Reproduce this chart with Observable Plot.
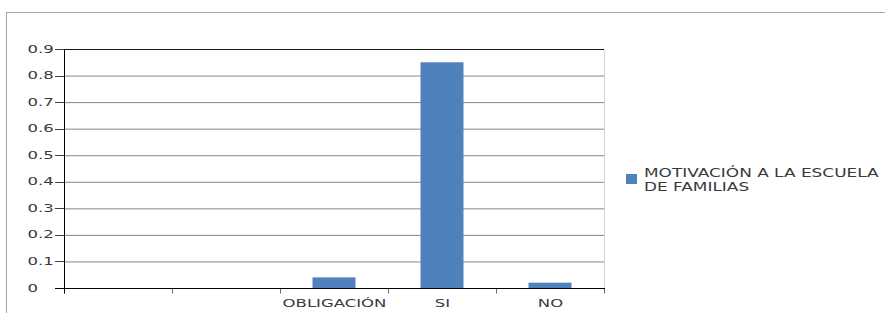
<!DOCTYPE html>
<html>
<head>
<meta charset="utf-8">
<script src="https://cdn.jsdelivr.net/npm/d3@7"></script>
<script src="https://cdn.jsdelivr.net/npm/@observablehq/plot@0.6"></script>
<style>
  html, body { margin: 0; padding: 0; background: #fff; }
  #wrap { position: relative; width: 885px; height: 313px; overflow: hidden; }
  #border { position: absolute; left: 6px; top: 12px; width: 900px; height: 400px;
            border-left: 1px solid #a6a6a6; border-top: 1px solid #a6a6a6; }
  #chart { position: absolute; left: 0; top: 0; }
  #legend { position: absolute; left: 626px; top: 166px; font-family: "DejaVu Sans", sans-serif;
            font-size: 12px; line-height: 14px; color: #3a3a3a; }
  #legend .sw { position: absolute; left: 0; top: 8px; width: 11px; height: 10px; background: #4f81bd; }
  #legend .tx { position: absolute; left: 18px; top: 0; white-space: nowrap;
                transform: scaleX(1.41); transform-origin: left center; }
</style>
</head>
<body>
<div id="wrap">
  <div id="border"></div>
  <div id="chart"></div>
  <div id="legend"></div>
</div>
<script>
const categories = ["", " ", "OBLIGACIÓN", "SI", "NO"];
const values = [null, null, 0.04, 0.85, 0.02];
const yTicks = [0, 0.1, 0.2, 0.3, 0.4, 0.5, 0.6, 0.7, 0.8, 0.9];
const yTickLabels = ["0", "0.1", "0.2", "0.3", "0.4", "0.5", "0.6", "0.7", "0.8", "0.9"];
const seriesLines = ["MOTIVACIÓN A LA ESCUELA", "DE FAMILIAS"];

const data = categories.map((c, i) => ({cat: c, value: values[i]})).filter(d => d.value != null);
const yLabelData = yTicks.map((t, i) => ({t, label: yTickLabels[i]}));

function axisLines(index, scales, vals, dims) {
  const x = scales.x, y = scales.y;
  const left = dims.marginLeft;
  const right = dims.width - dims.marginRight;
  const bw = x.bandwidth();
  const g = d3.create("svg:g");
  const y0 = Math.round(y(0)) + 0.5;
  const yTop = Math.round(y(yTicks[yTicks.length - 1])) + 0.5;
  g.append("line").attr("x1", right + 0.5).attr("x2", right + 0.5).attr("y1", yTop).attr("y2", y0)
    .attr("stroke", "#d4d4d4");
  yTicks.forEach(t => {
    const yy = Math.round(y(t)) + 0.5;
    g.append("line").attr("x1", left - 9).attr("x2", left).attr("y1", yy).attr("y2", yy).attr("stroke", "#404040");
  });
  const bounds = categories.map(c => x(c)).concat([x(categories[categories.length - 1]) + bw]);
  bounds.forEach(b => {
    const xx = Math.round(b) + 0.5;
    g.append("line").attr("x1", xx).attr("x2", xx).attr("y1", y0).attr("y2", y0 + 5).attr("stroke", "#6e6e6e");
  });
  g.append("line").attr("x1", left + 0.5).attr("x2", left + 0.5).attr("y1", yTop).attr("y2", y0 + 5)
    .attr("stroke", "#000");
  g.append("line").attr("x1", left - 9).attr("x2", right + 1).attr("y1", y0).attr("y2", y0)
    .attr("stroke", "#000");
  return g.node();
}

const plot = Plot.plot({
  width: 885,
  height: 313,
  marginLeft: 64,
  marginRight: 281,
  marginTop: 49,
  marginBottom: 25,
  style: {fontFamily: "DejaVu Sans, sans-serif", fontSize: "11px", background: "transparent", color: "#3a3a3a"},
  x: {domain: categories, padding: 0, axis: null},
  y: {domain: [0, 0.9], axis: null},
  marks: [
    Plot.ruleY(yTicks.filter(t => t > 0 && t < 0.9), {stroke: "#868686", strokeWidth: 1}),
    Plot.ruleY([0.9], {stroke: "#1a1a1a", strokeWidth: 1}),
    Plot.barY(data, {x: "cat", y: "value", fill: "#4f81bd", insetLeft: 32.5, insetRight: 32.5}),
    axisLines,
    Plot.text(yLabelData, {y: "t", text: "label", frameAnchor: "left", dx: -37, dy: 3, textAnchor: "start",
      fill: "#3a3a3a", fontSize: 11}),
    Plot.text(categories, {x: d => d, text: d => d, frameAnchor: "bottom", dy: 18.5,
      fill: "#3a3a3a", fontSize: 11})
  ]
});

// widen glyphs horizontally around each label's anchor point
d3.select(plot).selectAll("text").each(function() {
  const el = this;
  let tr = el.getAttribute("transform") || "";
  const xa = el.getAttribute("x"), ya = el.getAttribute("y");
  if (xa != null || ya != null) {
    tr += ` translate(${+xa || 0},${+ya || 0})`;
    el.removeAttribute("x");
    el.removeAttribute("y");
  }
  el.setAttribute("transform", tr + " scale(1.5,1)");
});

document.getElementById("chart").appendChild(plot);

const legend = document.getElementById("legend");
const sw = document.createElement("div");
sw.className = "sw";
legend.appendChild(sw);
const tx = document.createElement("div");
tx.className = "tx";
tx.innerHTML = seriesLines.map(s => s.replace(/&/g, "&amp;")).join("<br>");
legend.appendChild(tx);
</script>
</body>
</html>
